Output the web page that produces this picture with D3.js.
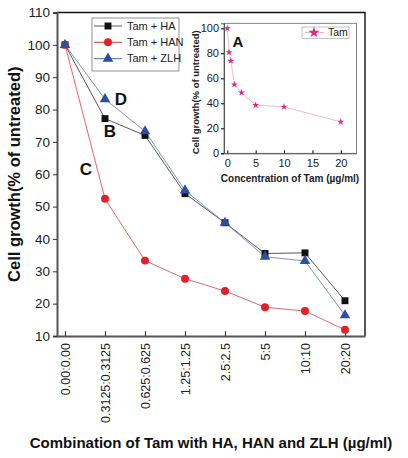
<!DOCTYPE html>
<html><head><meta charset="utf-8">
<script src="https://cdn.jsdelivr.net/npm/d3@7/dist/d3.min.js"></script>
<style>body{margin:0;background:#fff}svg{display:block;font-family:"Liberation Sans",Arial,sans-serif}</style>
</head><body><svg id="c" width="408" height="458"></svg>
<script>
const categories = ["0.00:0.00","0.3125:0.3125","0.625:0.625","1.25:1.25","2.5:2.5","5:5","10:10","20:20"];
const haValues  = [100, 77.2, 72.0, 54.0, 45.0, 35.5, 35.7, 20.9];
const hanValues = [100, 52.4, 33.3, 27.7, 23.9, 18.9, 17.7, 11.9];
const zlhValues = [100, 83.2, 73.3, 55.0, 45.0, 34.5, 33.2, 16.4];
const yTicks = [10,20,30,40,50,60,70,80,90,100,110];
const tamDoses = [0, 0.3125, 0.625, 1.25, 2.5, 5, 10, 20];
const tamValues = [100, 80.8, 74.0, 55.0, 48.6, 38.5, 37.2, 25.1];
const insetYTicks = [0,20,40,60,80,100];
const insetXTicks = [0,5,10,15,20];
const seriesNames = ["Tam + HA","Tam + HAN","Tam + ZLH"];

const svg = d3.select("#c");
const L=57, R=365, T=12.5, B=336;
const x = d3.scaleLinear().domain([-0.2, 7.5]).range([L, R]);
const y = d3.scaleLinear().domain([10, 110]).range([B, T]);

// frame top/right
svg.append("path").attr("d",`M${L},${T}H${R}V${B}`).attr("fill","none").attr("stroke","#111").attr("stroke-width",1.4);

// y axis
const ya = svg.append("g").attr("transform",`translate(${L},0)`)
  .call(d3.axisLeft(y).tickValues(yTicks).tickSize(4).tickPadding(3));
ya.select(".domain").attr("stroke","#555").attr("stroke-width",2);
ya.selectAll(".tick line").attr("stroke","#333");
ya.selectAll("text").attr("font-size",13.5).attr("fill","#222").attr("font-family","Liberation Sans, Arial");

// x axis
const xa = svg.append("g").attr("transform",`translate(0,${B})`)
  .call(d3.axisBottom(x).tickValues(d3.range(categories.length)).tickFormat(i=>categories[i]).tickSize(-5).tickSizeOuter(0));
xa.select(".domain").attr("stroke","#555").attr("stroke-width",2);
xa.selectAll(".tick line").attr("stroke","#444").attr("stroke-width",1.2);
xa.selectAll("text").attr("font-size",12.5).attr("fill","#222").attr("font-family","Liberation Sans, Arial")
  .attr("transform","rotate(-90)").attr("text-anchor","end").attr("x",-7).attr("y",0).attr("dy","0.35em");

const series = [
  {name:seriesNames[0], vals:haValues, line:"#444", fill:"#111", sym:d3.symbolSquare, size:48},
  {name:seriesNames[1], vals:hanValues, line:"#e25555", fill:"#e3202a", sym:d3.symbolCircle, size:50},
  {name:seriesNames[2], vals:zlhValues, line:"#6f86c0", fill:"#2d4fa3", sym:d3.symbolTriangle, size:48},
];
const lineGen = d3.line().x((d,i)=>x(i)).y(d=>y(d));
series.forEach(s=>{
  svg.append("path").attr("d",lineGen(s.vals)).attr("fill","none").attr("stroke",s.line).attr("stroke-width",0.9);
});
series.forEach(s=>{
  svg.append("g").selectAll("path").data(s.vals).join("path")
    .attr("transform",(d,i)=>`translate(${x(i)},${y(d)})`)
    .attr("d",d3.symbol().type(s.sym).size(s.size)).attr("fill",s.fill);
});

// letters
[["D",121,99],["B",110,131],["C",86,169]].forEach(([t,a,b])=>{
  svg.append("text").attr("x",a).attr("y",b).attr("text-anchor","middle").attr("dy","0.35em")
    .attr("font-size",17).attr("font-weight","bold").attr("fill","#111").text(t);
});

// legend
const lg = svg.append("g");
lg.append("rect").attr("x",92).attr("y",18).attr("width",87).attr("height",53).attr("fill","#fff").attr("stroke","#777").attr("stroke-width",0.8);
series.forEach((s,i)=>{
  const yy = 26 + i*16.3;
  lg.append("line").attr("x1",94).attr("x2",122).attr("y1",yy).attr("y2",yy).attr("stroke",s.line==="#444"?"#777":s.line).attr("stroke-width",1.2);
  lg.append("path").attr("transform",`translate(108,${yy})`).attr("d",d3.symbol().type(s.sym).size(s.size)).attr("fill",s.fill);
  lg.append("text").attr("x",127).attr("y",yy).attr("dy","0.35em").attr("font-size",11).attr("fill","#222").text(s.name);
});

// axis titles
svg.append("text").attr("transform",`translate(20,${(T+B)/2}) rotate(-90)`).attr("text-anchor","middle")
  .attr("font-size",16.5).attr("font-weight","bold").attr("fill","#111").text("Cell growth(% of untreated)");
svg.append("text").attr("x",211).attr("y",448).attr("text-anchor","middle")
  .attr("font-size",15).attr("font-weight","bold").attr("fill","#111").text("Combination of Tam with HA, HAN and ZLH (\u00b5g/ml)");

// inset
const iL=224, iR=356.5, iT=23.3, iB=153.3;
const ix = d3.scaleLinear().domain([-0.58, 22.76]).range([iL, iR]);
const iy = d3.scaleLinear().domain([0, 104]).range([iB, iT]);
svg.append("rect").attr("x",iL).attr("y",iT).attr("width",iR-iL).attr("height",iB-iT).attr("fill","#fff").attr("stroke","#666").attr("stroke-width",0.8);
const iya = svg.append("g").attr("transform",`translate(${iL},0)`).call(d3.axisLeft(iy).tickValues(insetYTicks).tickSize(3).tickPadding(2));
iya.select(".domain").attr("stroke","#555");
iya.selectAll("text").attr("font-size",11).attr("fill","#222").attr("font-family","Liberation Sans, Arial");
const ixa = svg.append("g").attr("transform",`translate(0,${iB})`).call(d3.axisBottom(ix).tickValues(insetXTicks).tickSize(-3).tickSizeOuter(0).tickPadding(6));
ixa.select(".domain").attr("stroke","#555");
ixa.selectAll("text").attr("font-size",11).attr("fill","#222").attr("font-family","Liberation Sans, Arial");
const iline = d3.line().x((d,i)=>ix(tamDoses[i])).y(d=>iy(d));
svg.append("path").attr("d",iline(tamValues)).attr("fill","none").attr("stroke","#f2b3c8").attr("stroke-width",0.9);
svg.append("g").selectAll("path").data(tamValues).join("path")
  .attr("transform",(d,i)=>`translate(${ix(tamDoses[i])},${iy(d)})`)
  .attr("d",d3.symbol().type(d3.symbolStar).size(16)).attr("fill","#e0288a");
svg.append("text").attr("x",238).attr("y",42).attr("text-anchor","middle").attr("dy","0.35em")
  .attr("font-size",15).attr("font-weight","bold").attr("fill","#111").text("A");
// inset legend
svg.append("rect").attr("x",302).attr("y",27).attr("width",47).attr("height",11.5).attr("fill","#fff").attr("stroke","#999").attr("stroke-width",0.6);
svg.append("line").attr("x1",305).attr("x2",324).attr("y1",32.5).attr("y2",32.5).attr("stroke","#f2b3c8");
svg.append("path").attr("transform","translate(314,32.5)").attr("d",d3.symbol().type(d3.symbolStar).size(40)).attr("fill","#e0288a");
svg.append("text").attr("x",328).attr("y",32.5).attr("dy","0.35em").attr("font-size",10.5).attr("fill","#222").text("Tam");
svg.append("text").attr("transform",`translate(199,${(iT+iB)/2+4}) rotate(-90)`).attr("text-anchor","middle")
  .attr("font-size",9.5).attr("font-weight","bold").attr("fill","#222").text("Cell growth(% of untreated)");
svg.append("text").attr("x",290).attr("y",178).attr("text-anchor","middle").attr("dy","0.35em")
  .attr("font-size",10).attr("font-weight","bold").attr("fill","#222").text("Concentration of Tam (\u00b5g/ml)");
</script></body></html>
